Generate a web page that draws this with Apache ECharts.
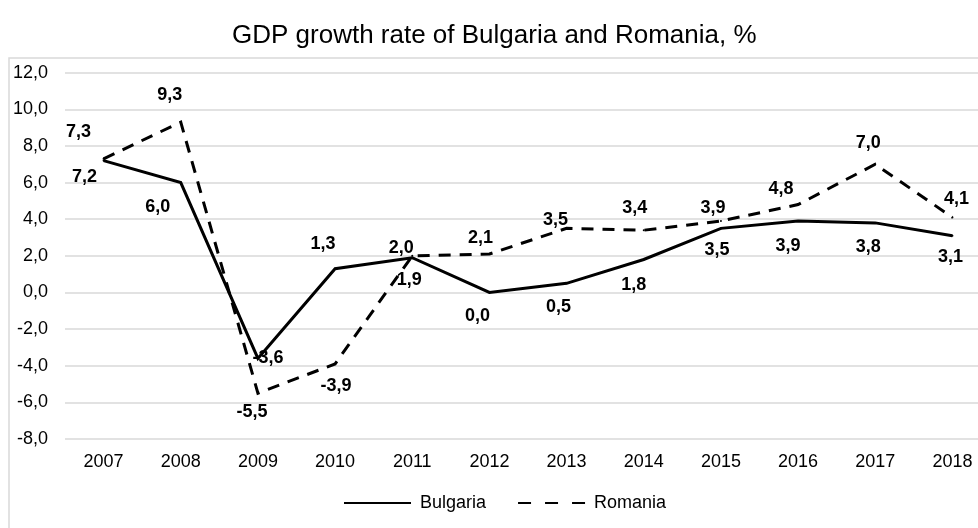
<!DOCTYPE html>
<html>
<head>
<meta charset="utf-8">
<script src="https://cdn.jsdelivr.net/npm/echarts@6/dist/echarts.min.js"></script>
<style>
  html, body { margin: 0; padding: 0; background: #fff; overflow: hidden; width: 978px; height: 528px; }
  #chart { width: 1010px; height: 528px; }
</style>
</head>
<body>
<div id="chart"></div>
<script>
const years = ['2007','2008','2009','2010','2011','2012','2013','2014','2015','2016','2017','2018'];
const bulgaria = [7.2, 6.0, -3.6, 1.3, 1.9, 0.0, 0.5, 1.8, 3.5, 3.9, 3.8, 3.1];
const romania  = [7.3, 9.3, -5.5, -3.9, 2.0, 2.1, 3.5, 3.4, 3.9, 4.8, 7.0, 4.1];
const yTicks = { min: -8, max: 12, interval: 2 };

// label placement (style only): offsets of label centre from the point
const bulgariaLabelOffset = [[-19,16],[-23,24],[10,0],[-12,-25],[-3,22],[-12,24],[-8,24],[-10,26],[-4,22],[-10,25],[-7,24],[-2,21]];
const romaniaLabelOffset  = [[-25,-27],[-11,-27],[-6,19],[1,22],[-11,-8],[-9,-16],[-11,-8],[-9,-22],[-8,-13],[-17,-16],[-7,-21],[4,-18]];

const FONT = "'Liberation Sans', Arial, sans-serif";
const fmt = v => Number(v).toFixed(1).replace('.', ',');

function mkData(vals, offs) {
  return vals.map((v, i) => ({ value: v, label: { offset: offs[i] } }));
}

const chart = echarts.init(document.getElementById('chart'), null, { renderer: 'canvas' });
chart.setOption({
  backgroundColor: '#fff',
  animation: false,
  textStyle: { fontFamily: FONT },
  title: {
    text: 'GDP growth rate of Bulgaria and Romania, %',
    left: 232, top: 23, padding: 0,
    textStyle: { fontFamily: FONT, fontSize: 26, fontWeight: 'normal', color: '#000' }
  },
  graphic: [{
    type: 'rect', z: -10, silent: true,
    shape: { x: 9, y: 58, width: 1100, height: 1000 },
    style: { fill: 'none', stroke: '#d9d9d9', lineWidth: 1.5 }
  }],
  legend: {
    left: 343, top: 494, padding: 0,
    itemWidth: 67, itemHeight: 18, itemGap: 31,
    itemStyle: { opacity: 0 },
    textStyle: { fontFamily: FONT, fontSize: 18, color: '#000', padding: [0, 0, 0, 4] },
    data: [
      { name: 'Bulgaria' },
      { name: 'Romania', lineStyle: { type: [13, 14] } }
    ]
  },
  grid: { left: 65, top: 72.7, height: 366.3, width: 926, containLabel: false },
  xAxis: {
    type: 'category', data: years, boundaryGap: true,
    axisLine: { show: false }, axisTick: { show: false },
    axisLabel: { fontFamily: FONT, fontSize: 18, color: '#000', margin: 14 }
  },
  yAxis: {
    type: 'value', min: yTicks.min, max: yTicks.max, interval: yTicks.interval,
    axisLine: { show: false }, axisTick: { show: false },
    splitLine: { lineStyle: { color: '#d9d9d9', width: 1.5 } },
    axisLabel: { fontFamily: FONT, fontSize: 18, color: '#000', margin: 17, formatter: fmt }
  },
  series: [
    {
      name: 'Bulgaria', type: 'line', data: mkData(bulgaria, bulgariaLabelOffset),
      symbol: 'circle', symbolSize: 2, showSymbol: true,
      itemStyle: { color: '#000' },
      lineStyle: { color: '#000', width: 3, cap: 'butt', join: 'miter' },
      label: {
        show: true, position: 'inside', formatter: p => fmt(p.value),
        fontFamily: FONT, fontSize: 18, fontWeight: 'bold', color: '#000'
      },
      z: 3
    },
    {
      name: 'Romania', type: 'line', data: mkData(romania, romaniaLabelOffset),
      symbol: 'circle', symbolSize: 2, showSymbol: true,
      itemStyle: { color: '#000' },
      lineStyle: { color: '#000', width: 3, type: [12, 9], cap: 'butt', join: 'miter' },
      label: {
        show: true, position: 'inside', formatter: p => fmt(p.value),
        fontFamily: FONT, fontSize: 18, fontWeight: 'bold', color: '#000'
      },
      z: 2
    }
  ]
});
</script>
</body>
</html>
